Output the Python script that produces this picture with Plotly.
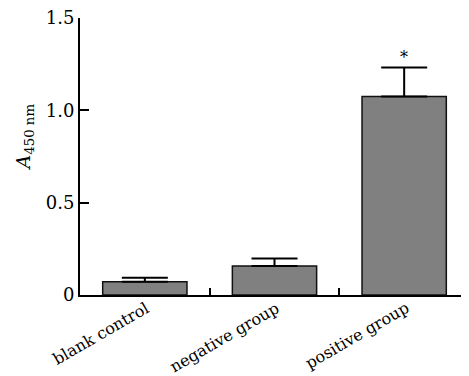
import plotly.graph_objects as go

categories = ["blank control", "negative group", "positive group"]
means = [0.072, 0.157, 1.075]
errors = [0.022, 0.040, 0.157]
y_tickvals = [0, 0.5, 1.0, 1.5]
y_ticktext = ["0", "0.5", "1.0", "1.5"]
significance = ["", "", "*"]

FONT = "DejaVu Serif"

fig = go.Figure()
fig.add_trace(go.Bar(
    x=categories, y=means,
    marker=dict(color="#808080", line=dict(color="#111111", width=1.5)),
    width=0.65,
    error_y=dict(type="data", array=errors, symmetric=False, arrayminus=[0, 0, 0],
                 color="black", thickness=2, width=23),
))

for c, m, e, s in zip(categories, means, errors, significance):
    if s:
        fig.add_annotation(x=c, y=m + e, text=s, showarrow=False, yshift=10,
                           font=dict(family=FONT, size=16, color="black"))

# category labels, rotated like the reference
for c in categories:
    fig.add_annotation(x=c, xref="x", y=0, yref="paper", text=c, showarrow=False,
                       textangle=-30, xanchor="right", yanchor="top",
                       xshift=9, yshift=-2, borderpad=0,
                       font=dict(family=FONT, size=16, color="black"))

fig.add_annotation(xref="paper", yref="paper", x=-0.143, y=0.57, xanchor="center",
                   yanchor="middle", textangle=-90, showarrow=False,
                   text="<i>A</i><sub>450 nm</sub>",
                   font=dict(family=FONT, size=19, color="black"))

# page body has an 8px default margin: figure is drawn 8px right/down
fig.update_layout(
    width=461, height=368,
    margin=dict(l=72, r=0, t=10, b=81),
    plot_bgcolor="white", paper_bgcolor="white",
    showlegend=False,
    font=dict(family=FONT, color="black"),
    bargap=0.35,
)
fig.update_xaxes(
    automargin=False, showticklabels=False, range=[-0.5, 2.5],
    showline=True, linecolor="black", linewidth=2,
    ticks="inside", tickson="boundaries", ticklen=7, tickwidth=2, tickcolor="black",
    showgrid=False, zeroline=False,
)
fig.update_yaxes(
    automargin=False, ticklabeloverflow="allow",
    range=[0, 1.5], tickvals=y_tickvals, ticktext=y_ticktext,
    showline=True, linecolor="black", linewidth=2,
    ticks="inside", ticklen=9, tickwidth=2, tickcolor="black",
    tickfont=dict(family=FONT, size=18, color="black"),
    showgrid=False, zeroline=False,
)

fig.write_html("out.html")
